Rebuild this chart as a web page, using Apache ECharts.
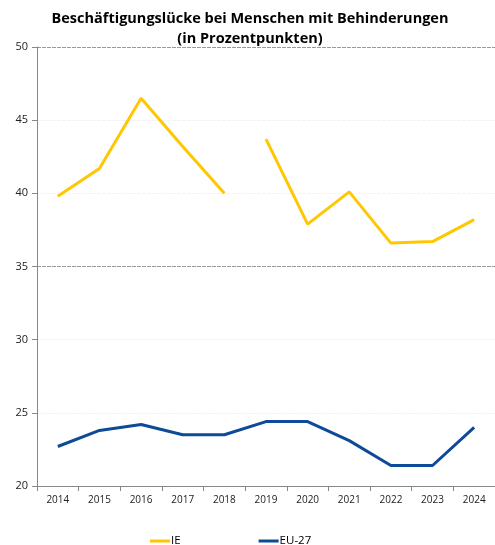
<!DOCTYPE html>
<html>
<head>
<meta charset="utf-8">
<script src="https://cdn.jsdelivr.net/npm/echarts@6/dist/echarts.min.js"></script>
<style>
  html, body { margin: 0; padding: 0; background: #fff; }
  #chart { width: 495px; height: 545px; }
</style>
</head>
<body>
<div id="chart"></div>
<script>
// Years on the category axis
const years = ['2014', '2015', '2016', '2017', '2018', '2019', '2020', '2021', '2022', '2023', '2024'];

// Employment gap (percentage points); the IE series breaks between 2018 and 2019
const ieFirst = [39.8, 41.7, 46.5, 43.2, 40.0, null, null, null, null, null, null];
const ieSecond = [null, null, null, null, null, 43.7, 37.9, 40.1, 36.6, 36.7, 38.2];
const eu27 = [22.7, 23.8, 24.2, 23.5, 23.5, 24.4, 24.4, 23.1, 21.4, 21.4, 24.0];

const IE_COLOR = '#FFC702';
const EU_COLOR = '#0D4A97';
const FONT = 'Open Sans';

const chart = echarts.init(document.getElementById('chart'), null, { renderer: 'canvas' });

chart.setOption({
  animation: false,
  backgroundColor: '#fff',
  title: {
    text: 'Beschäftigungslücke bei Menschen mit Behinderungen\n(in Prozentpunkten)',
    left: 245,
    textAlign: 'center',
    top: 4,
    textStyle: {
      fontFamily: FONT,
      fontWeight: 'bold',
      fontSize: 14.5,
      lineHeight: 20,
      color: '#000'
    }
  },
  legend: {
    left: 145,
    top: 530,
    itemWidth: 20,
    itemHeight: 3,
    itemGap: 78,
    icon: 'rect',
    textStyle: { fontFamily: FONT, fontSize: 11.5, color: '#000', padding: [0, 0, 0, -4] },
    data: [
      { name: 'IE', itemStyle: { color: IE_COLOR } },
      { name: 'EU-27', itemStyle: { color: EU_COLOR } }
    ]
  },
  grid: { left: 37, top: 47, width: 460, height: 439, containLabel: false },
  xAxis: {
    type: 'category',
    data: years,
    boundaryGap: true,
    axisLine: { lineStyle: { color: '#888', width: 1 } },
    axisTick: { show: true, length: 5, lineStyle: { color: '#888' } },
    axisLabel: { fontFamily: FONT, fontSize: 10, color: '#222', margin: 9 }
  },
  yAxis: {
    type: 'value',
    min: 20,
    max: 50,
    interval: 5,
    axisLine: { show: true, lineStyle: { color: '#888', width: 1 } },
    axisTick: { show: true, length: 5, lineStyle: { color: '#888' } },
    axisLabel: { fontFamily: FONT, fontSize: 11, color: '#222', margin: 9 },
    splitLine: {
      show: true,
      lineStyle: {
        type: [4, 1],
        color: ['rgba(0,0,0,0)', '#f3f3f3', '#f3f3f3', '#9a9a9a', '#f3f3f3', '#f3f3f3', '#9a9a9a']
      }
    }
  },
  series: [
    {
      name: 'IE', type: 'line', data: ieFirst, showSymbol: false, connectNulls: false,
      lineStyle: { color: IE_COLOR, width: 3 }, itemStyle: { color: IE_COLOR }
    },
    {
      name: 'IE', type: 'line', data: ieSecond, showSymbol: false, connectNulls: false,
      lineStyle: { color: IE_COLOR, width: 3 }, itemStyle: { color: IE_COLOR }
    },
    {
      name: 'EU-27', type: 'line', data: eu27, showSymbol: false,
      lineStyle: { color: EU_COLOR, width: 3 }, itemStyle: { color: EU_COLOR }
    }
  ]
});
</script>
</body>
</html>
